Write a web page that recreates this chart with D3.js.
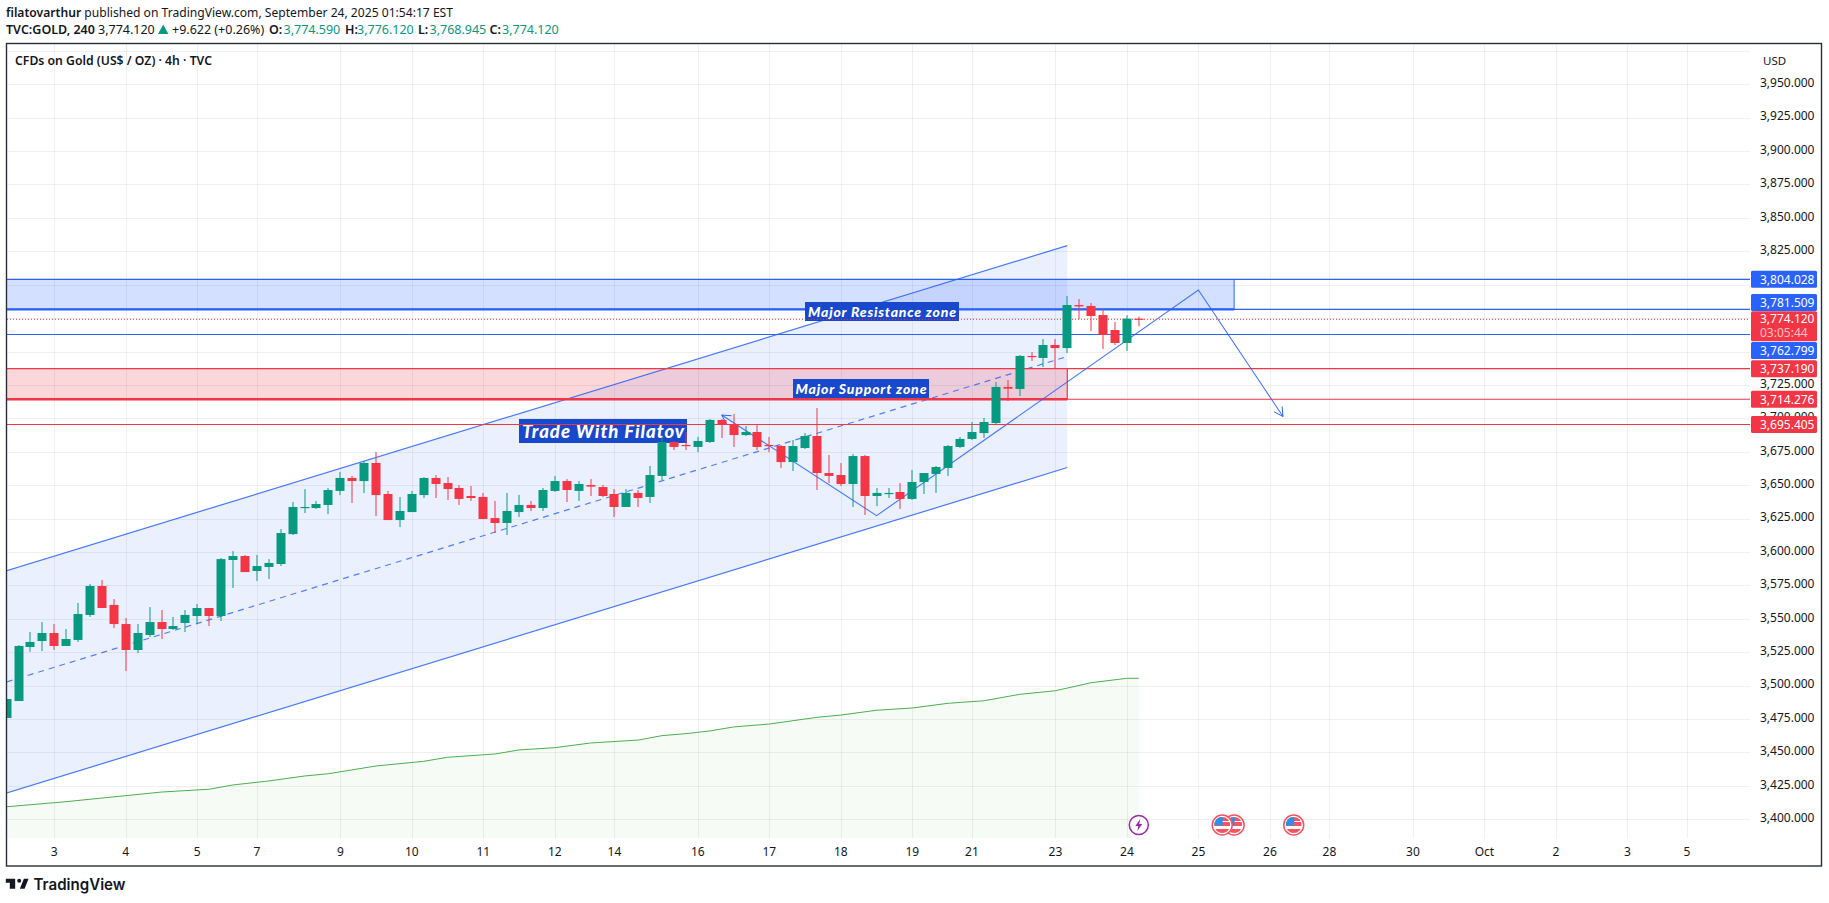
<!DOCTYPE html>
<html>
<head>
<meta charset="utf-8">
<script src="https://cdn.jsdelivr.net/npm/d3@7"></script>
<style>
  html, body { margin: 0; padding: 0; background: #fff; }
  svg { display: block; }
  text { font-family: 'Noto Sans', sans-serif; fill: #131722; }
  .label-note { font-family: Lato, sans-serif; font-weight: 900; font-style: italic; fill: #fff; }
</style>
</head>
<body>
<svg id="chart" width="1829" height="903"></svg>
<script>
// Candles, 4h bars, in bar order.
const opens = [
  3475.8, 3488.5, 3528.9, 3533.4, 3539.4, 3529.7, 3534.2, 3552.9, 3574.6, 3560.4, 3546.1, 3526.7,
  3537.9, 3547.6, 3542.4, 3546.9, 3552.1, 3558.1, 3552.1, 3594.0, 3597.0, 3585.8, 3588.8, 3591.0,
  3613.4, 3632.9, 3632.9, 3635.2, 3645.7, 3655.4, 3653.1, 3666.6, 3643.4, 3623.9, 3629.9, 3642.6,
  3655.4, 3651.6, 3647.9, 3641.9, 3641.2, 3625.4, 3621.7, 3629.9, 3635.2, 3632.9, 3645.7, 3653.1,
  3645.7, 3650.1, 3648.6, 3643.4, 3633.7, 3644.2, 3641.2, 3656.9, 3682.3, 3680.1, 3678.6, 3682.3,
  3698.8, 3695.3, 3687.5, 3689.8, 3680.1, 3679.3, 3667.3, 3677.8, 3686.8, 3659.1, 3657.6, 3650.9,
  3671.8, 3641.9, 3643.7, 3644.9, 3639.7, 3652.4, 3658.4, 3662.9, 3678.6, 3684.6, 3689.0, 3696.5,
  3723.5, 3722.0, 3746.7, 3745.2, 3754.9, 3752.6, 3784.8, 3784.1, 3777.3, 3766.1, 3756.4, 3774.59
];
const highs = [
  3490.0, 3530.4, 3540.1, 3547.6, 3546.1, 3542.4, 3561.9, 3576.1, 3579.0, 3564.8, 3550.6, 3546.1,
  3558.8, 3556.6, 3551.4, 3556.6, 3561.1, 3558.1, 3595.5, 3600.7, 3597.8, 3597.8, 3594.7, 3617.2,
  3637.4, 3647.1, 3638.2, 3647.9, 3659.9, 3656.9, 3668.1, 3674.8, 3645.7, 3641.1, 3645.7, 3656.1,
  3657.6, 3656.1, 3650.1, 3649.4, 3644.2, 3638.2, 3644.2, 3642.7, 3638.2, 3647.9, 3656.9, 3654.6,
  3653.1, 3654.6, 3650.1, 3647.1, 3647.1, 3646.4, 3664.4, 3686.1, 3683.1, 3689.8, 3686.1, 3699.5,
  3699.5, 3703.3, 3694.3, 3695.0, 3686.1, 3680.1, 3683.8, 3689.0, 3707.7, 3672.6, 3666.6, 3673.3,
  3672.6, 3647.9, 3647.9, 3651.6, 3661.4, 3659.1, 3664.4, 3680.1, 3686.1, 3697.3, 3700.3, 3727.2,
  3728.7, 3747.4, 3749.6, 3759.4, 3759.4, 3791.5, 3789.3, 3786.3, 3781.8, 3772.1, 3777.3, 3776.12
];
const lows = [
  3475.8, 3488.5, 3525.4, 3525.9, 3526.7, 3529.7, 3532.7, 3551.4, 3558.1, 3543.1, 3511.0, 3524.4,
  3536.4, 3534.9, 3541.6, 3540.1, 3546.1, 3544.6, 3548.4, 3573.1, 3585.0, 3578.3, 3579.8, 3589.5,
  3612.7, 3629.2, 3632.2, 3628.4, 3642.6, 3636.7, 3644.1, 3626.9, 3623.9, 3618.7, 3629.9, 3640.4,
  3640.4, 3638.9, 3635.2, 3638.2, 3624.7, 3614.2, 3612.7, 3626.2, 3630.7, 3630.7, 3644.9, 3637.4,
  3638.2, 3641.9, 3641.2, 3626.2, 3633.7, 3633.7, 3636.7, 3653.9, 3676.3, 3676.3, 3674.8, 3681.6,
  3685.3, 3678.6, 3686.8, 3676.3, 3674.8, 3662.9, 3660.6, 3677.1, 3646.4, 3651.6, 3649.4, 3633.7,
  3627.7, 3634.4, 3640.4, 3632.2, 3638.9, 3643.4, 3644.2, 3656.9, 3677.8, 3683.8, 3685.3, 3695.8,
  3713.0, 3716.7, 3742.9, 3738.4, 3737.7, 3748.9, 3774.3, 3765.4, 3751.9, 3754.9, 3750.4, 3768.945
];
const closes = [
  3490.0, 3529.7, 3532.7, 3539.4, 3529.7, 3534.9, 3553.6, 3574.6, 3558.1, 3546.1, 3526.7, 3539.4,
  3547.6, 3542.4, 3544.6, 3552.9, 3558.1, 3552.1, 3594.7, 3597.0, 3585.0, 3589.5, 3591.8, 3614.2,
  3633.7, 3633.7, 3635.9, 3646.4, 3655.4, 3653.1, 3666.6, 3642.6, 3623.9, 3630.7, 3643.4, 3655.4,
  3650.9, 3647.1, 3639.7, 3640.4, 3624.7, 3621.7, 3630.7, 3635.2, 3632.9, 3646.4, 3653.1, 3646.4,
  3650.9, 3648.9, 3641.9, 3633.7, 3644.2, 3640.4, 3657.6, 3682.3, 3678.6, 3679.6, 3683.1, 3698.8,
  3695.3, 3687.5, 3689.8, 3678.6, 3679.3, 3667.3, 3679.3, 3686.8, 3659.1, 3656.9, 3650.9, 3671.8,
  3641.9, 3644.2, 3644.2, 3639.7, 3652.4, 3659.1, 3663.6, 3679.3, 3684.6, 3689.8, 3697.3, 3723.5,
  3722.2, 3746.7, 3745.9, 3754.9, 3752.6, 3784.8, 3783.8, 3776.6, 3762.4, 3756.4, 3774.6, 3774.12
];

// Green average, as [bar, price].
const maPoints = [
  [0, 3409.4], [5, 3413.2], [10, 3417.7], [13, 3420.4], [17, 3422.5], [19, 3425.7], [22, 3428.7],
  [25, 3432.4], [27, 3434.1], [31, 3439.9], [35, 3443.4], [37, 3446.4], [41, 3448.9], [43, 3451.9],
  [46, 3453.6], [49, 3457.1], [53, 3459.3], [55, 3462.6], [57, 3464.1], [59, 3466.1], [61, 3469.1],
  [64, 3471.3], [68, 3476.3], [70, 3478.0], [73, 3481.6], [76, 3483.3], [79, 3486.8], [82, 3488.7],
  [85, 3493.5], [88, 3496.2], [91, 3502.2], [94, 3505.5], [95, 3505.5]
];

// Axis ticks.
const timeTickBars = [4, 10, 16, 21, 28, 34, 40, 46, 51, 58, 64, 70, 76, 81, 88, 94, 100, 106, 111, 118, 124, 130, 136, 141];
const timeTickLabels = ['3', '4', '5', '7', '9', '10', '11', '12', '14', '16', '17', '18', '19', '21', '23', '24', '25', '26', '28', '30', 'Oct', '2', '3', '5'];
const priceTicks = d3.range(3400, 3951, 25);
// These three sit right behind the price tags, the reference never shows them.
const coveredPriceTicks = [3800, 3775, 3750];

// Drawings.
const channelTop = [[0, 3586.0], [89, 3829.3]];
const channelMid = [[0, 3502.8], [89, 3746.3]];
const channelBottom = [[0, 3419.7], [89, 3663.2]];
const forecastPath = [[60, 3702.5], [73, 3627.2], [100, 3796.0], [107.1, 3701.4]];
const resistancePrices = [3804.028, 3781.509];
const supportPrices = [3737.19, 3714.276];
const bluePriceLines = [3804.028, 3781.509, 3762.799];
const redPriceLines = [3737.19, 3714.276, 3695.405];
const resistanceEndBar = 103;
const supportEndBar = 89;
const lastPrice = 3774.12;
const countdown = '03:05:44';
const flagEventBars = [108, 103, 102];
const earningsEventBar = 95;

// Header text.
const publishLine = ' published on TradingView.com, September 24, 2025 01:54:17 EST';
const ohlcLabels = [
  { key: 'O:', value: '3,774.590' },
  { key: 'H:', value: '3,776.120' },
  { key: 'L:', value: '3,768.945' },
  { key: 'C:', value: '3,774.120' }
];

const blue = '#2962ff';
const red = '#f23645';
const up = '#089981';
const frame = { left: 6.5, top: 43.5, right: 1821.5, bottom: 866 };
const plot = { left: 7, top: 44, right: 1750, bottom: 838 };

const svg = d3.select('#chart');
const x = d3.scaleLinear().domain([4, 141]).range([54.3, 1687]);
const y = d3.scaleLinear().domain([3825, 3400]).range([251.3, 819.3]);
const fmt = d3.format(',.3f');

svg.append('defs').append('clipPath').attr('id', 'plotClip')
  .append('rect')
  .attr('x', plot.left).attr('y', plot.top)
  .attr('width', plot.right - plot.left).attr('height', plot.bottom - plot.top);
svg.select('defs').append('clipPath').attr('id', 'flagClip')
  .append('circle').attr('r', 8);

const gPlot = svg.append('g').attr('clip-path', 'url(#plotClip)');

function line(points) {
  return d3.line().x((d) => x(d[0])).y((d) => y(d[1]))(points);
}

function setupFills() {
  // Channel and zones sit under the grid.
  gPlot.append('path')
    .attr('d', d3.area().x((d) => x(d[0])).y0((d, i) => y(channelBottom[i][1])).y1((d) => y(d[1]))(channelTop))
    .attr('fill', blue).attr('fill-opacity', 0.095);
  gPlot.append('rect')
    .attr('x', plot.left).attr('y', y(resistancePrices[0]))
    .attr('width', x(resistanceEndBar) - plot.left)
    .attr('height', y(resistancePrices[1]) - y(resistancePrices[0]))
    .attr('fill', blue).attr('fill-opacity', 0.2);
  gPlot.append('rect')
    .attr('x', plot.left).attr('y', y(supportPrices[0]))
    .attr('width', x(supportEndBar) - plot.left)
    .attr('height', y(supportPrices[1]) - y(supportPrices[0]))
    .attr('fill', red).attr('fill-opacity', 0.2);
  gPlot.append('path')
    .attr('d', d3.area().x((d) => x(d[0])).y0(plot.bottom).y1((d) => y(d[1]))(maPoints))
    .attr('fill', '#4caf50').attr('fill-opacity', 0.05);
}

function setupGrid() {
  const gGrid = gPlot.append('g').attr('stroke', '#2a2e39').attr('stroke-opacity', 0.07);
  gGrid.selectAll('.gridX').data(timeTickBars).join('line')
    .attr('x1', (d) => Math.round(x(d)) + 0.5).attr('x2', (d) => Math.round(x(d)) + 0.5)
    .attr('y1', plot.top).attr('y2', plot.bottom);
  gGrid.selectAll('.gridY').data(priceTicks.concat([3975])).join('line')
    .attr('x1', plot.left).attr('x2', plot.right)
    .attr('y1', (d) => Math.round(y(d)) + 0.5).attr('y2', (d) => Math.round(y(d)) + 0.5);
}

function arrowHead(tip, from, color) {
  // Two short barbs, worked out in pixels.
  const angle = Math.atan2(y(from[1]) - y(tip[1]), x(from[0]) - x(tip[0]));
  [-0.5, 0.5].forEach((a) => {
    gPlot.append('line')
      .attr('x1', x(tip[0])).attr('y1', y(tip[1]))
      .attr('x2', x(tip[0]) + 10 * Math.cos(angle + a))
      .attr('y2', y(tip[1]) + 10 * Math.sin(angle + a))
      .attr('stroke', color).attr('stroke-width', 1);
  });
}

function setupDrawings() {
  [channelTop, channelBottom].forEach((points) => {
    gPlot.append('path').attr('d', line(points)).attr('fill', 'none')
      .attr('stroke', blue).attr('stroke-width', 1.2).attr('stroke-opacity', 0.85);
  });
  gPlot.append('path').attr('d', line(channelMid)).attr('fill', 'none')
    .attr('stroke', blue).attr('stroke-width', 1.2).attr('stroke-opacity', 0.8)
    .attr('stroke-dasharray', '6 5');

  // Zone borders, the lower edge is heavier.
  gPlot.append('line')
    .attr('x1', plot.left).attr('x2', x(resistanceEndBar))
    .attr('y1', y(resistancePrices[1])).attr('y2', y(resistancePrices[1]))
    .attr('stroke', blue).attr('stroke-width', 2.4);
  gPlot.append('line')
    .attr('x1', x(resistanceEndBar)).attr('x2', x(resistanceEndBar))
    .attr('y1', y(resistancePrices[0])).attr('y2', y(resistancePrices[1]))
    .attr('stroke', blue).attr('stroke-width', 1);
  gPlot.append('line')
    .attr('x1', plot.left).attr('x2', x(supportEndBar))
    .attr('y1', y(supportPrices[1])).attr('y2', y(supportPrices[1]))
    .attr('stroke', red).attr('stroke-width', 2.4);
  gPlot.append('line')
    .attr('x1', x(supportEndBar)).attr('x2', x(supportEndBar))
    .attr('y1', y(supportPrices[0])).attr('y2', y(supportPrices[1]))
    .attr('stroke', red).attr('stroke-width', 1.2);

  gPlot.selectAll('.rayBlue').data(bluePriceLines).join('line')
    .attr('x1', plot.left).attr('x2', plot.right)
    .attr('y1', (d) => y(d)).attr('y2', (d) => y(d))
    .attr('stroke', blue).attr('stroke-width', 1.1);
  gPlot.selectAll('.rayRed').data(supportPrices).join('line')
    .attr('x1', plot.left).attr('x2', plot.right)
    .attr('y1', (d) => y(d)).attr('y2', (d) => y(d))
    .attr('stroke', red).attr('stroke-width', 1.1);

  gPlot.append('path').attr('d', line(forecastPath)).attr('fill', 'none')
    .attr('stroke', blue).attr('stroke-width', 1.1).attr('stroke-opacity', 0.85);
  arrowHead(forecastPath[0], forecastPath[1], blue);
  arrowHead(forecastPath[3], forecastPath[2], blue);

  gPlot.append('path').attr('d', line(maPoints)).attr('fill', 'none')
    .attr('stroke', '#4caf50').attr('stroke-width', 1);

  // Text notes.
  noteBox('Trade With Filatov', 519, 419, 168, 24, 18.5, 162);
  noteBox('Major Resistance zone', 805, 302, 154, 19, 14, 148);
  noteBox('Major Support zone', 793, 379, 136, 19, 14, 131);

  gPlot.append('line')
    .attr('x1', plot.left).attr('x2', plot.right)
    .attr('y1', y(redPriceLines[2])).attr('y2', y(redPriceLines[2]))
    .attr('stroke', red).attr('stroke-width', 1.1);
  gPlot.append('line')
    .attr('x1', plot.left).attr('x2', plot.right)
    .attr('y1', y(lastPrice)).attr('y2', y(lastPrice))
    .attr('stroke', red).attr('stroke-width', 1).attr('stroke-dasharray', '1 2');
}

function noteBox(label, left, top, width, height, size, textWidth) {
  gPlot.append('rect')
    .attr('x', left).attr('y', top).attr('width', width).attr('height', height)
    .attr('fill', '#1848cc');
  gPlot.append('text').attr('class', 'label-note')
    .attr('x', left + (width - textWidth) / 2).attr('y', top + height / 2)
    .attr('dy', '0.36em').attr('font-size', size)
    .attr('textLength', textWidth).attr('lengthAdjust', 'spacing')
    .text(label);
}

function setupCandles() {
  const gCandles = gPlot.append('g');
  const bars = d3.range(opens.length);
  const color = (i) => (closes[i] < opens[i] ? red : up);
  gCandles.selectAll('.wick').data(bars).join('rect')
    .attr('x', (i) => Math.round(x(i)) - 0.5).attr('width', 1)
    .attr('y', (i) => y(highs[i])).attr('height', (i) => y(lows[i]) - y(highs[i]))
    .attr('fill', color);
  gCandles.selectAll('.body').data(bars).join('rect')
    .attr('x', (i) => Math.round(x(i)) - 4.5).attr('width', 9)
    .attr('y', (i) => y(Math.max(opens[i], closes[i])))
    .attr('height', (i) => Math.max(1.2, Math.abs(y(opens[i]) - y(closes[i]))))
    .attr('fill', color);
}

function setupEvents() {
  const cy = 825;
  const gEvents = gPlot.append('g');
  flagEventBars.forEach((bar) => {
    const g = gEvents.append('g').attr('transform', `translate(${x(bar)},${cy})`);
    g.append('circle').attr('r', 10).attr('fill', '#fff').attr('stroke', '#f7525f').attr('stroke-width', 1.5);
    const flag = g.append('g').attr('clip-path', 'url(#flagClip)');
    flag.append('rect').attr('x', -8).attr('y', -8).attr('width', 16).attr('height', 16).attr('fill', '#fff');
    flag.append('rect').attr('x', -8).attr('y', -3).attr('width', 16).attr('height', 4).attr('fill', '#f7525f');
    flag.append('rect').attr('x', -8).attr('y', 4).attr('width', 16).attr('height', 4).attr('fill', '#f7525f');
    flag.append('rect').attr('x', -8).attr('y', -8).attr('width', 16).attr('height', 4).attr('fill', '#f7525f');
    flag.append('rect').attr('x', -8).attr('y', -8).attr('width', 8.5).attr('height', 8.5).attr('fill', '#2f8fe8');
  });
  const g = gEvents.append('g').attr('transform', `translate(${x(earningsEventBar)},${cy})`);
  g.append('circle').attr('r', 9.5).attr('fill', '#fff').attr('stroke', '#9c27b0').attr('stroke-width', 1.5);
  g.append('path').attr('d', 'M1.5 -6 L-3.5 1 L-0.5 1 L-1.5 6 L3.5 -1 L0.5 -1 Z').attr('fill', '#9c27b0');
}

function setupAxes() {
  const axisX = svg.append('g')
    .attr('transform', 'translate(-0.5,852)')
    .call(d3.axisBottom(x).tickValues(timeTickBars).tickSize(0).tickPadding(0)
      .tickFormat((d, i) => timeTickLabels[i]));
  axisX.select('.domain').remove();
  axisX.selectAll('text').attr('dy', '0.36em').attr('y', 0).attr('font-size', 12).attr('fill', '#131722')
    .attr('font-family', "'Noto Sans', sans-serif");

  const shownPriceTicks = priceTicks.filter((d) => !coveredPriceTicks.includes(d));
  const axisY = svg.append('g')
    .attr('transform', 'translate(1760,-1.5)')
    .call(d3.axisRight(y).tickValues(shownPriceTicks).tickSize(0).tickPadding(0).tickFormat(fmt));
  axisY.select('.domain').remove();
  axisY.selectAll('text').attr('font-size', 12).attr('fill', '#131722')
    .attr('font-family', "'Noto Sans', sans-serif");

  svg.append('text').attr('x', 1763).attr('y', 65).attr('font-size', 11.5).text('USD');
}

function setupTags() {
  // Label boxes get pushed apart where they would overlap.
  const tagNudge = { 3781.509: -7, 3762.799: 16 };
  const tags = [
    [resistancePrices[0], blue], [resistancePrices[1], blue], [bluePriceLines[2], blue],
    [supportPrices[0], red], [supportPrices[1], red], [redPriceLines[2], red]
  ];
  const gTags = svg.append('g');
  tags.forEach(([price, color]) => {
    const cy = y(price) + (tagNudge[price] || 0);
    gTags.append('rect').attr('x', 1751).attr('y', cy - 8.5).attr('width', 66).attr('height', 17)
      .attr('rx', 1.5).attr('fill', color);
    gTags.append('text').attr('x', 1760).attr('y', cy).attr('dy', '0.36em')
      .attr('font-size', 12).style('fill', '#fff').text(fmt(price));
  });
  gTags.append('rect').attr('x', 1751).attr('y', 311.3).attr('width', 66).attr('height', 30)
    .attr('rx', 1.5).attr('fill', red);
  gTags.append('text').attr('x', 1760).attr('y', y(lastPrice) - 0.5).attr('dy', '0.36em')
    .attr('font-size', 12).style('fill', '#fff').text(fmt(lastPrice));
  gTags.append('text').attr('x', 1760).attr('y', 333).attr('dy', '0.36em')
    .attr('font-size', 12).style('fill', '#fff').style('fill-opacity', 0.7).text(countdown);
}

function setupHeader() {
  const line1 = svg.append('text').attr('x', 6).attr('y', 17).attr('font-size', 12.5)
    .attr('textLength', 447).attr('lengthAdjust', 'spacingAndGlyphs');
  line1.append('tspan').attr('font-weight', 600).text('filatovarthur');
  line1.append('tspan').text(publishLine);

  svg.append('text').attr('x', 6).attr('y', 34).attr('font-size', 12.5).attr('font-weight', 600).text('TVC:GOLD, 240');
  svg.append('text').attr('x', 98).attr('y', 34).attr('font-size', 12.5).text('3,774.120');
  svg.append('path').attr('d', 'M158 34 L163.2 24.5 L168.4 34 Z').attr('fill', up);
  svg.append('text').attr('x', 172).attr('y', 34).attr('font-size', 12.5).text('+9.622 (+0.26%)');
  const keyX = [269, 345, 418, 489.5];
  const valueX = [283.5, 357, 429.5, 502];
  ohlcLabels.forEach((d, i) => {
    svg.append('text').attr('x', keyX[i]).attr('y', 34).attr('font-size', 12.5).attr('font-weight', 600).text(d.key);
    svg.append('text').attr('x', valueX[i]).attr('y', 34).attr('font-size', 12.5).style('fill', up).text(d.value);
  });

  svg.append('text').attr('x', 15).attr('y', 65).attr('font-size', 12.5).attr('font-weight', 600)
    .attr('textLength', 197).attr('lengthAdjust', 'spacingAndGlyphs')
    .text('CFDs on Gold (US$ / OZ) · 4h · TVC');
}

function setupFrame() {
  svg.append('rect')
    .attr('x', frame.left).attr('y', frame.top)
    .attr('width', frame.right - frame.left).attr('height', frame.bottom - frame.top)
    .attr('fill', 'none').attr('stroke', '#2a2e39').attr('stroke-width', 1.4);

  // Logo.
  svg.append('path')
    .attr('transform', 'translate(5.8,874.7) scale(0.67)')
    .attr('d', 'M14 6H0v6h6v9h8V6zm14 15h-7l6-15h7l-6 15zm-8-9a3 3 0 1 0 0-6 3 3 0 0 0 0 6z')
    .attr('fill', '#131722');
  svg.append('text').attr('x', 33.5).attr('y', 890).attr('font-size', 15.5)
    .style('font-family', 'Inter, sans-serif').attr('font-weight', 600)
    .attr('textLength', 92).attr('lengthAdjust', 'spacingAndGlyphs').text('TradingView');
}

window.addEventListener('load', () => {
  setupFills();
  setupGrid();
  setupDrawings();
  setupCandles();
  setupEvents();
  setupAxes();
  setupTags();
  setupHeader();
  setupFrame();
});
</script>
</body>
</html>
